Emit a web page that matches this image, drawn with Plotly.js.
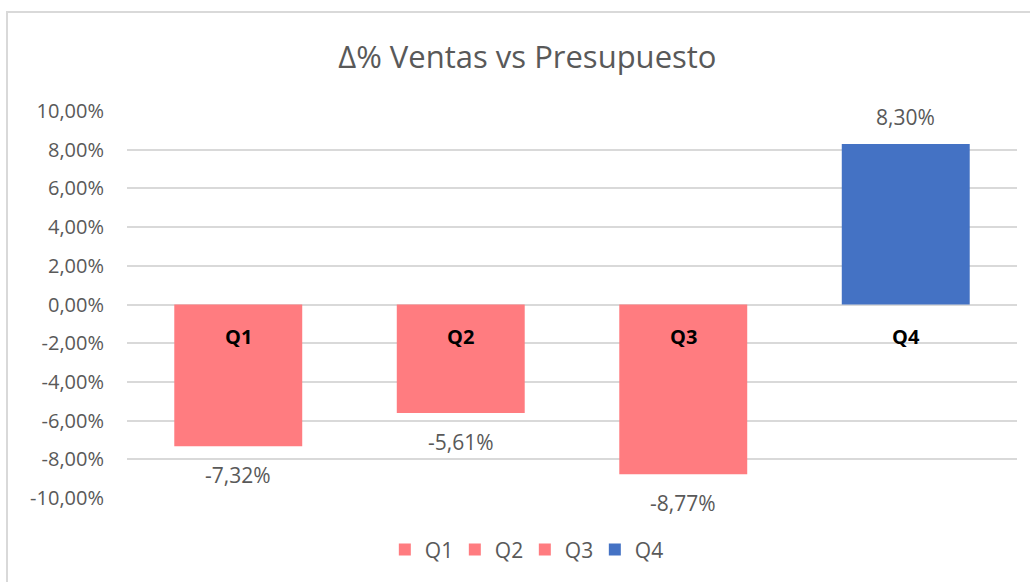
<!DOCTYPE html>
<html>
<head>
<meta charset="utf-8">
<script src="https://cdn.plot.ly/plotly-3.0.1.min.js"></script>
<style>
  html, body { margin: 0; padding: 0; background: #ffffff; }
  #wrap { position: relative; width: 1030px; height: 582px; overflow: hidden; }
  #frame { position: absolute; left: 6px; top: 11px; width: 1040px; height: 600px;
           border-left: 2px solid #d9d9d9; border-top: 2px solid #d9d9d9; pointer-events: none; }
  #chart { position: absolute; left: 0; top: 0; width: 1030px; height: 582px; }
</style>
</head>
<body>
<div id="wrap">
  <div id="chart"></div>
  <div id="frame"></div>
</div>
<script>
// ---- data ----
const categories = ["Q1", "Q2", "Q3", "Q4"];
const values = [-0.0732, -0.0561, -0.0877, 0.0830];
const colors = ["#FF7C80", "#FF7C80", "#FF7C80", "#4472C4"];
const yTickVals = [-0.10, -0.08, -0.06, -0.04, -0.02, 0, 0.02, 0.04, 0.06, 0.08, 0.10];
const chartTitle = "Δ% Ventas vs Presupuesto";

const FONT = "Open Sans, Noto Sans, sans-serif";
const GRAY = "#595959";

function fmtPct(v) {
  return (v * 100).toFixed(2).replace(".", ",") + "%";
}
const yTickText = yTickVals.map(v => fmtPct(Math.abs(v) < 1e-12 ? 0 : v));

const traces = categories.map((c, i) => ({
  type: "bar",
  name: c,
  x: [c],
  y: [values[i]],
  marker: { color: colors[i] },
  width: 0.575,
  hoverinfo: "skip"
}));

const annotations = [];
categories.forEach((c, i) => {
  // category label at the zero line
  annotations.push({
    x: c, y: 0, xref: "x", yref: "y",
    text: "<b>" + c + "</b>",
    showarrow: false, yanchor: "middle", yshift: -32,
    font: { family: FONT, size: 20, color: "#000000" }
  });
  // value label outside end
  const v = values[i];
  annotations.push({
    x: c, y: v, xref: "x", yref: "y",
    text: fmtPct(v),
    showarrow: false,
    yanchor: v < 0 ? "top" : "bottom",
    yshift: v < 0 ? -13 : 11,
    font: { family: FONT, size: 21, color: GRAY }
  });
});

const layout = {
  width: 1030,
  height: 582,
  paper_bgcolor: "rgba(0,0,0,0)",
  plot_bgcolor: "#ffffff",
  separators: ",.",
  margin: { l: 127, r: 13, t: 111, b: 84 },
  barmode: "overlay",
  title: {
    text: chartTitle,
    x: 0.512, xanchor: "center",
    y: 1 - 57 / 582, yanchor: "middle", yref: "container",
    font: { family: FONT, size: 31, color: GRAY }
  },
  xaxis: {
    type: "category",
    categoryorder: "array",
    categoryarray: categories,
    showticklabels: false,
    showgrid: false,
    zeroline: false,
    showline: false,
    ticks: ""
  },
  yaxis: {
    range: [-0.10, 0.10],
    tickmode: "array",
    tickvals: yTickVals,
    ticktext: yTickText,
    showgrid: true,
    gridcolor: "#d9d9d9",
    gridwidth: 2,
    zeroline: true,
    zerolinecolor: "#d9d9d9",
    zerolinewidth: 2,
    showline: false,
    ticks: "",
    ticklabelstandoff: 22,
    tickfont: { family: FONT, size: 20, color: GRAY }
  },
  showlegend: true,
  legend: {
    orientation: "h",
    x: 0.447, xanchor: "center",
    y: -0.134, yanchor: "middle",
    yref: "paper",
    entrywidth: 25,
    font: { family: FONT, size: 21, color: GRAY },
    bgcolor: "rgba(0,0,0,0)"
  },
  annotations: annotations
};

Plotly.newPlot("chart", traces, layout, { displayModeBar: false, staticPlot: true });
</script>
</body>
</html>
